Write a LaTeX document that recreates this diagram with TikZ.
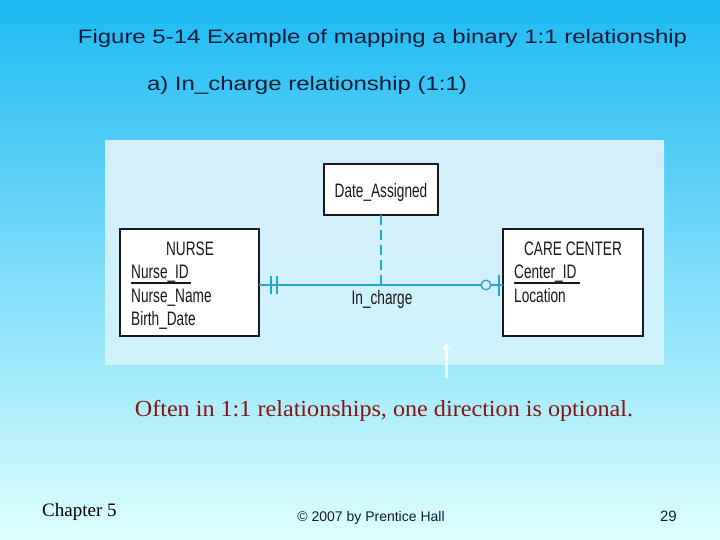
\documentclass[tikz,border=0pt]{standalone}
\usepackage{fontspec}
\setmainfont{Liberation Sans}
\newfontfamily\timesf{Liberation Serif}
\newfontfamily\redf[FakeStretch=1.05]{Liberation Serif}
\newfontfamily\widef[FakeStretch=1.23]{Liberation Sans}
\newfontfamily\narrowf[FakeStretch=0.70]{Liberation Sans}
\usetikzlibrary{arrows.meta}
\definecolor{bgtop}{RGB}{28,186,242}
\definecolor{bgmid}{RGB}{120,218,250}
\definecolor{bgbot}{RGB}{222,255,255}
\definecolor{panel}{RGB}{212,238,250}
\definecolor{panelbot}{RGB}{205,243,253}
\definecolor{teal}{RGB}{40,165,200}
\definecolor{titlec}{RGB}{18,28,55}
\definecolor{redc}{RGB}{135,20,20}
\definecolor{boxline}{RGB}{25,25,30}
\tikzset{
  entbox/.style={draw=boxline, line width=2pt, fill=white},
  ertext/.style={font=\narrowf\fontsize{19.5}{19.5}\selectfont, inner sep=0pt, text=black!90},
  rel/.style={draw=teal, line width=2pt},
  titletext/.style={font=\widef\fontsize{19.5}{20}\selectfont, text=titlec, inner sep=0pt, anchor=base},
}
\begin{document}
\begin{tikzpicture}[x=1pt,y=-1pt]
\useasboundingbox (0,0) rectangle (720,540);
\shade[top color=bgtop, middle color=bgmid, bottom color=bgbot] (0,0) rectangle (720,540);
% panel
\shade[top color=panel, bottom color=panelbot] (105,141) rectangle (664,364);
% titles
\node[titletext] (title) at (382.5,44) {Figure 5-14 Example of mapping a binary 1:1 relationship};
\node[titletext] (sub) at (307,91) {a) In\_charge relationship (1:1)};
% boxes
\path[entbox] (324,164) rectangle (438,215);
\coordinate (dabot) at (381,215);
\node[ertext, anchor=base] (da) at (381,198) {Date\_Assigned};
\path[entbox] (120,229) rectangle (259,336);
\coordinate (nr) at (259,285);
\path[entbox] (503,229) rectangle (643,336);
\coordinate (cl) at (503,285);
% NURSE texts
\node[ertext, anchor=base] (nurse) at (190,255) {NURSE};
\node[ertext, anchor=base west] (nid) at (131,278.5) {Nurse\_ID};
\node[ertext, anchor=base west] (nname) at (131,302) {Nurse\_Name};
\node[ertext, anchor=base west] (nbd) at (131,325.5) {Birth\_Date};
\draw[line width=2pt, boxline] (131,282.5) -- (191,282.5);
% CARE CENTER texts
\node[ertext, anchor=base] (cc) at (573,255) {CARE CENTER};
\node[ertext, anchor=base west] (cid) at (514,278.5) {Center\_ID};
\node[ertext, anchor=base west] (loc) at (514,302) {Location};
\draw[line width=2pt, boxline] (514,283) -- (580,283);
% relationship
\draw[rel] (nr) -- (cl);
\coordinate (mid) at (381,285);
\draw[draw=teal, line width=1.2pt, dash pattern=on 10pt off 5pt] (dabot) -- (mid);
\draw[draw=teal, line width=1.5pt] (271,276) -- (271,294) (277,276) -- (277,294);
\draw[draw=teal, line width=1.5pt] (499,275) -- (499,296);
\draw[draw=teal, line width=1.3pt, fill=panel] (486,285) circle (4.8);
\node[ertext, anchor=base] (inch) at (382,304) {In\_charge};
% arrow
\coordinate (ab) at (446,378);
\coordinate (at) at (446,343);
\draw[white, opacity=0.75, line width=3pt, -{Triangle[length=6pt,width=7pt]}] (ab) -- (at);
% note
\node[font=\redf\fontsize{23}{23}\selectfont, text=redc, anchor=base, inner sep=0pt] (note) at (384,416) {Often in 1:1 relationships, one direction is optional.};
% footer
\node[font=\timesf\fontsize{19}{19}\selectfont, anchor=base west, inner sep=0pt, text=black] (chap) at (42,516) {Chapter 5};
\node[font=\fontsize{14}{14}\selectfont, anchor=base, inner sep=0pt, text=titlec] (copy) at (371,521) {© 2007 by Prentice Hall};
\node[font=\fontsize{15}{15}\selectfont, anchor=base east, inner sep=0pt, text=titlec] (pg) at (677,521) {29};
\end{tikzpicture}
\end{document}
